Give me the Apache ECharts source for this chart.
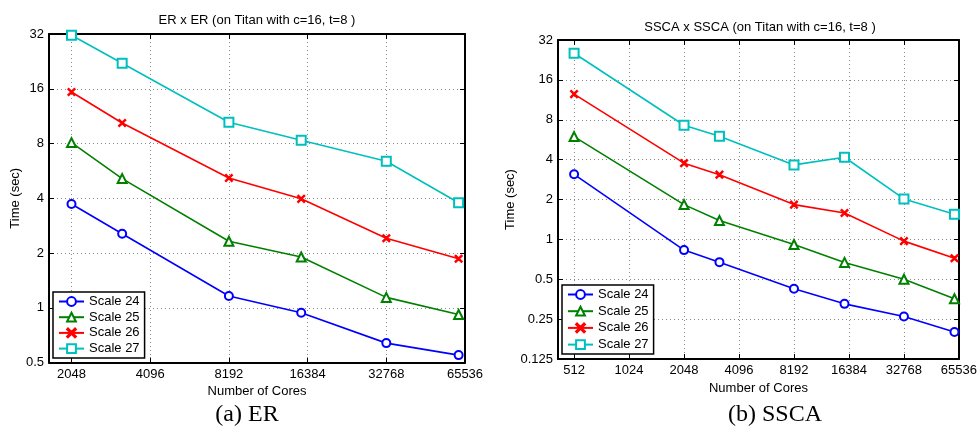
<!DOCTYPE html>
<html><head><meta charset="utf-8">
<script src="https://cdn.jsdelivr.net/npm/echarts@6/dist/echarts.min.js"></script>
<style>html,body{margin:0;padding:0;background:#fff}#c{width:980px;height:431px}</style>
</head><body><div id="c"></div>
<script>
// ---------- data ----------
const seriesNames = ['Scale 24', 'Scale 25', 'Scale 26', 'Scale 27'];

const erCores = [2048, 3200, 8192, 15488, 32768, 61952];
const erScale24 = [3.72, 2.55, 1.16, 0.938, 0.639, 0.549];
const erScale25 = [8.09, 5.13, 2.32, 1.90, 1.14, 0.918];
const erScale26 = [15.36, 10.37, 5.17, 3.97, 2.41, 1.86];
const erScale27 = [31.5, 22.1, 10.47, 8.33, 6.39, 3.78];

const sscaCores = [512, 2048, 3200, 8192, 15488, 32768, 61952];
const sscaScale24 = [3.10, 0.83, 0.673, 0.424, 0.326, 0.262, 0.20];
const sscaScale25 = [5.97, 1.83, 1.39, 0.915, 0.67, 0.50, 0.356];
const sscaScale26 = [12.5, 3.76, 3.08, 1.83, 1.58, 0.97, 0.72];
const sscaScale27 = [25.4, 7.27, 6.0, 3.65, 4.17, 2.02, 1.55];

const erXTicks = [2048, 4096, 8192, 16384, 32768, 65536];
const erYTicks = [0.5, 1, 2, 4, 8, 16, 32];
const sscaXTicks = [512, 1024, 2048, 4096, 8192, 16384, 32768, 65536];
const sscaYTicks = [0.125, 0.25, 0.5, 1, 2, 4, 8, 16, 32];

const titles = ['ER x ER (on Titan with c=16, t=8 )', 'SSCA x SSCA (on Titan with c=16, t=8 )'];
const captions = ['(a) ER', '(b) SSCA'];
const xName = 'Number of Cores';
const yName = 'Time (sec)';

// ---------- styles ----------
const colors = ['#0000FF', '#008000', '#FF0000', '#00BFBF'];
const xPath = 'path://M0,1L1,0L5,4L9,0L10,1L6,5L10,9L9,10L5,6L1,10L0,9L4,5Z';
const symbols = ['emptyCircle', 'emptyTriangle', xPath, 'emptyRect'];
const symbolSizes = [8, 9, 7, 9];
const FONT = '"Liberation Sans", Arial, Helvetica, sans-serif';

const chart = echarts.init(document.getElementById('c'), null, {renderer: 'canvas'});

function xAxes(gridIndex, min, max, ticks, nameGap) {
  const base = {
    type: 'log', logBase: 2, gridIndex, min, max,
    axisLine: {show: true, lineStyle: {color: '#000', width: 2}},
    axisTick: {show: true, inside: true, length: 5, customValues: ticks, lineStyle: {color: '#000', width: 1}},
    splitLine: {show: false}, minorTick: {show: false}
  };
  return [
    Object.assign({}, base, {
      position: 'bottom',
      axisLabel: {show: true, customValues: ticks, margin: 5, color: '#000', fontSize: 13, fontFamily: FONT,
        formatter: v => String(v)},
      splitLine: {show: true, lineStyle: {color: '#888', width: 1, type: [1, 3]}},
      name: xName, nameLocation: 'middle', nameGap,
      nameTextStyle: {color: '#000', fontSize: 13, fontFamily: FONT}
    }),
    Object.assign({}, base, {position: 'top', axisLabel: {show: false}})
  ];
}
function yAxes(gridIndex, min, max, ticks, nameGap) {
  const base = {
    type: 'log', logBase: 2, gridIndex, min, max,
    axisLine: {show: true, lineStyle: {color: '#000', width: 2}},
    axisTick: {show: true, inside: true, length: 5, customValues: ticks, lineStyle: {color: '#000', width: 1}},
    splitLine: {show: false}, minorTick: {show: false}
  };
  return [
    Object.assign({}, base, {
      position: 'left',
      axisLabel: {show: true, customValues: ticks, margin: 5, color: '#000', fontSize: 13, fontFamily: FONT,
        formatter: v => String(v)},
      splitLine: {show: true, lineStyle: {color: '#888', width: 1, type: [1, 3]}},
      name: yName, nameLocation: 'middle', nameGap,
      nameTextStyle: {color: '#000', fontSize: 13, fontFamily: FONT}
    }),
    Object.assign({}, base, {position: 'right', axisLabel: {show: false}})
  ];
}

function makeSeries(xs, ys, idx, axisIdx) {
  return {
    type: 'line', name: seriesNames[idx],
    xAxisIndex: axisIdx, yAxisIndex: axisIdx,
    data: xs.map((x, i) => [x, ys[i]]),
    symbol: symbols[idx], symbolSize: symbolSizes[idx], showAllSymbol: true,
    lineStyle: {color: colors[idx], width: 1.6},
    itemStyle: {color: colors[idx], borderColor: colors[idx], borderWidth: 1.5},
    emphasis: {disabled: true}, animation: false, z: 3
  };
}

const erSets = [erScale24, erScale25, erScale26, erScale27];
const sscaSets = [sscaScale24, sscaScale25, sscaScale26, sscaScale27];

const series = [];
erSets.forEach((ys, i) => series.push(makeSeries(erCores, ys, i, 0)));
sscaSets.forEach((ys, i) => series.push(makeSeries(sscaCores, ys, i, 2)));

function legend(left, top, gap) {
  return {
    show: true, orient: 'vertical', left, top, data: seriesNames,
    itemWidth: 25, itemHeight: 11, itemGap: gap,
    padding: [3, 5, 3, 5],
    backgroundColor: '#fff', borderColor: '#000', borderWidth: 1.5,
    textStyle: {color: '#000', fontSize: 13, fontFamily: FONT, lineHeight: 13},
    selectedMode: false, z: 10
  };
}

chart.setOption({
  animation: false,
  backgroundColor: '#fff',
  grid: [
    {left: 49, top: 34, width: 416, height: 328.5, containLabel: false},
    {left: 558, top: 40, width: 404, height: 319, containLabel: false}
  ],
  xAxis: [].concat(xAxes(0, 1680, 65536, erXTicks, 14), xAxes(1, 418, 65536, sscaXTicks, 14)),
  yAxis: [].concat(yAxes(0, 0.5, 32, erYTicks, 23.5), yAxes(1, 0.125, 32, sscaYTicks, 41)),
  legend: [legend(53, 292, 2.7), legend(562, 285, 3.7)],
  series,
  graphic: [
    {type: 'text', x: 257, y: 20, style: {text: titles[0], font: '13px ' + FONT, fill: '#000', align: 'center', verticalAlign: 'middle'}},
    {type: 'text', x: 760, y: 27, style: {text: titles[1], font: '13px ' + FONT, fill: '#000', align: 'center', verticalAlign: 'middle'}},
    {type: 'text', x: 247, y: 415, style: {text: captions[0], font: '24px "Liberation Serif", "Times New Roman", serif', fill: '#000', align: 'center', verticalAlign: 'middle'}},
    {type: 'text', x: 775, y: 415, style: {text: captions[1], font: '24px "Liberation Serif", "Times New Roman", serif', fill: '#000', align: 'center', verticalAlign: 'middle'}}
  ]
});
</script>
</body></html>
